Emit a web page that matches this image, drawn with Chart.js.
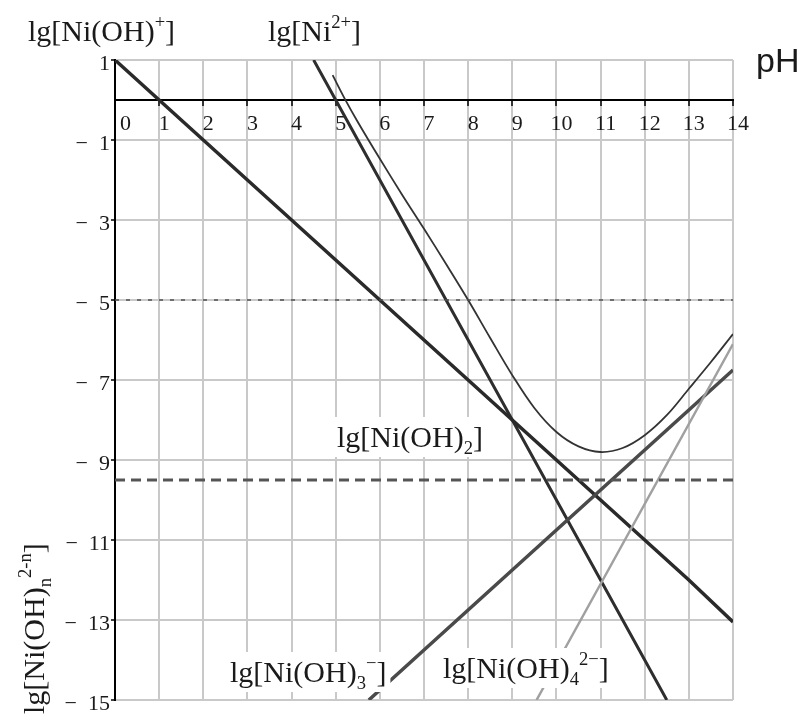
<!DOCTYPE html>
<html><head><meta charset="utf-8">
<script src="https://cdn.jsdelivr.net/npm/chart.js@4.4.1/dist/chart.umd.min.js"></script>
<style>html,body{margin:0;padding:0;background:#fff}canvas{display:block}</style>
</head><body>
<canvas id="c" width="807" height="715"></canvas>
<script>
// ---- tick values / labels ----
const pHTicks = [0,1,2,3,4,5,6,7,8,9,10,11,12,13,14];
const xTickLabels = ['0','1','2','3','4','5','6','7','8','9','10','11','12','13','14'];
const yTickValues = [1,-1,-3,-5,-7,-9,-11,-13,-15];
const yTickLabels = ['1','\u2212\u20021','\u2212\u20023','\u2212\u20025','\u2212\u20027','\u2212\u20029','\u2212\u200211','\u2212\u200213','\u2212\u200215'];

// ---- series ----
const pHNiOH = [0,1,2,3,4,5,6,7,8,9,10,11,12,13,14];
const lgNiOH = [1,0,-1,-2,-3,-4,-5,-6,-7,-8,-9,-10,-11,-12,-13.05];

const pHNi = [4.5,5,6,7,8,9,10,11,12,12.5];
const lgNi = [1,0,-2,-4,-6,-8,-10,-12,-14,-15];

const pHNiOH3 = [5.75,7,8,9,10,11,12,13,14];
const lgNiOH3 = [-15,-13.75,-12.75,-11.75,-10.75,-9.75,-8.75,-7.75,-6.75];

const pHNiOH4 = [9.55,10,11,12,13,14];
const lgNiOH4 = [-15,-14.1,-12.1,-10.1,-8.1,-6.1];

const pHTotal = [4.93,5.2,5.5,6,6.5,7,7.5,8,8.5,9,9.5,10,10.5,11,11.5,12,12.5,13,13.5,14];
const lgTotal = [0.62,0.04,-0.55,-1.47,-2.36,-3.22,-4.1,-5.0,-5.95,-6.88,-7.7,-8.3,-8.66,-8.8,-8.7,-8.38,-7.88,-7.22,-6.55,-5.85];

const pHRange = [0,14];
const lgNiOH2 = [-9.5,-9.5];
const lgLimit = [-5,-5];

function pts(xs, ys){ return xs.map((x,i)=>({x:x,y:ys[i]})); }

const SERIF = '"Liberation Serif", "Times New Roman", serif';

function richWidth(ctx, segs, size, family){
  let w = 0;
  for (const s of segs){
    const fs = (s.sub||s.sup) ? size*0.62 : size;
    ctx.font = fs + 'px ' + family;
    w += ctx.measureText(s.t).width;
  }
  return w;
}
function drawRich(ctx, segs, x, y, size, family, color){
  let cx = x;
  ctx.fillStyle = color;
  ctx.textAlign = 'left';
  ctx.textBaseline = 'alphabetic';
  for (const s of segs){
    const fs = (s.sub||s.sup) ? size*0.62 : size;
    ctx.font = fs + 'px ' + family;
    const dy = s.sub ? size*0.22 : (s.sup ? -size*0.42 : 0);
    ctx.fillText(s.t, cx, y+dy);
    cx += ctx.measureText(s.t).width;
  }
}

const labels = [
  {segs:[{t:'lg[Ni(OH)'},{t:'+',sup:true},{t:']'}], x:28, y:41, size:30, box:false},
  {segs:[{t:'lg[Ni'},{t:'2+',sup:true},{t:']'}], x:268, y:41, size:30, box:false},
  {segs:[{t:'lg[Ni(OH)'},{t:'2',sub:true},{t:']'}], x:337, y:447, size:30, box:true},
  {segs:[{t:'lg[Ni(OH)'},{t:'3',sub:true},{t:'\u2212',sup:true},{t:']'}], x:230, y:682, size:30, box:true},
  {segs:[{t:'lg[Ni(OH)'},{t:'4',sub:true},{t:'2\u2212',sup:true},{t:']'}], x:443, y:678, size:30, box:true}
];

const labelPlugin = {
  id:'labels',
  afterDatasetsDraw(chart){
    const ctx = chart.ctx;
    ctx.save();
    for (const L of labels){
      if (L.box){
        const w = richWidth(ctx, L.segs, L.size, SERIF);
        ctx.fillStyle = '#fff';
        ctx.fillRect(L.x-4, L.y-30, w+8, 40);
      }
      drawRich(ctx, L.segs, L.x, L.y, L.size, SERIF, '#1a1a1a');
    }
    // pH
    ctx.font = '34px "Liberation Sans", Arial, sans-serif';
    ctx.fillStyle = '#1a1a1a';
    ctx.textAlign = 'left';
    ctx.textBaseline = 'alphabetic';
    ctx.fillText('pH', 756, 72);
    // rotated y title
    ctx.translate(44, 714);
    ctx.rotate(-Math.PI/2);
    drawRich(ctx, [{t:'lg[Ni(OH)'},{t:'n',sub:true},{t:'2-n',sup:true},{t:']'}], 0, 0, 30, SERIF, '#1a1a1a');
    ctx.restore();
  }
};

const base = {showLine:true, pointRadius:0, fill:false};

new Chart(document.getElementById('c'), {
  type:'scatter',
  data:{datasets:[
    Object.assign({label:'lg[Ni(OH)2] limit', data:pts(pHRange, lgLimit), borderColor:'#505050', borderWidth:1.5, borderDash:[4,7]}, base),
    Object.assign({label:'lg[Ni(OH)2]', data:pts(pHRange, lgNiOH2), borderColor:'#555', borderWidth:3, borderDash:[10,6]}, base),
    Object.assign({label:'lg[Ni(OH)4 2-]', data:pts(pHNiOH4, lgNiOH4), borderColor:'#a0a0a0', borderWidth:2.5}, base),
    Object.assign({label:'lg[Ni(OH)3-]', data:pts(pHNiOH3, lgNiOH3), borderColor:'#4a4a4a', borderWidth:3.5}, base),
    Object.assign({label:'lg[Ni(OH)+]', data:pts(pHNiOH, lgNiOH), borderColor:'#2a2a2a', borderWidth:3.5}, base),
    Object.assign({label:'lg[Ni2+]', data:pts(pHNi, lgNi), borderColor:'#2e2e2e', borderWidth:3}, base),
    Object.assign({label:'total', data:pts(pHTotal, lgTotal), borderColor:'#333', borderWidth:1.8, tension:0.35}, base)
  ]},
  options:{
    responsive:false, animation:false, devicePixelRatio:1,
    layout:{padding:{left:0,right:74,top:60,bottom:15}},
    plugins:{legend:{display:false}, tooltip:{enabled:false}},
    scales:{
      x:{type:'linear', position:{y:0}, min:0, max:14,
        afterFit:(s)=>{s.height=0;},
        ticks:{stepSize:1, autoSkip:false, maxRotation:0, labelOffset:5, padding:6, color:'#1a1a1a',
          font:{family:'Liberation Serif', size:22},
          callback:(v)=>{const i=pHTicks.indexOf(v); if(i<0) return ''; return i===0 ? '\u2002'+xTickLabels[i] : xTickLabels[i];}},
        grid:{color:'#c9c9c9', lineWidth:2, tickLength:5, tickColor:'#000', tickWidth:1.5},
        border:{color:'#000', width:2}},
      y:{type:'linear', position:'left', min:-15, max:1,
        afterFit:(s)=>{s.width=115;},
        ticks:{stepSize:2, autoSkip:false, labelOffset:4, padding:1, color:'#1a1a1a',
          font:{family:'Liberation Serif', size:22},
          callback:(v)=>{const i=yTickValues.indexOf(v); return i<0 ? '' : yTickLabels[i];}},
        grid:{color:'#c9c9c9', lineWidth:2, tickLength:4, tickColor:'#000', tickWidth:1.5},
        border:{color:'#000', width:2}}
    }
  },
  plugins:[labelPlugin]
});
</script>
</body></html>
